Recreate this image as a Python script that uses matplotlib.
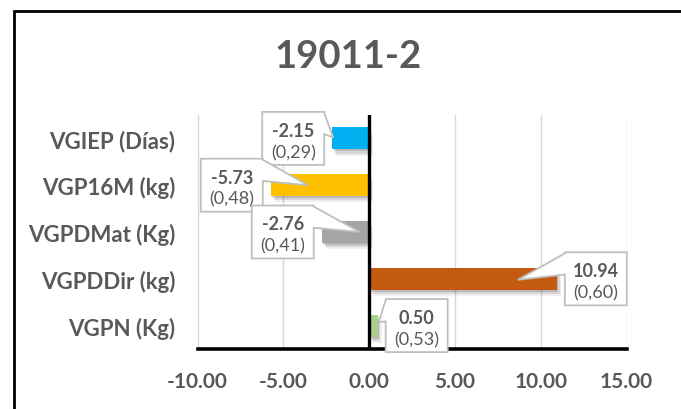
import matplotlib.pyplot as plt
import matplotlib.patches as mpatches
import matplotlib.patheffects as pe
import matplotlib.transforms as mtransforms
import numpy as np

categories = ["VGIEP (Días)", "VGP16M (kg)", "VGPDMat (Kg)", "VGPDDir (kg)", "VGPN (Kg)"]
values = [-2.15, -5.73, -2.76, 10.94, 0.50]
errors = ["(0,29)", "(0,48)", "(0,41)", "(0,60)", "(0,53)"]
colors = ["#00B0F0", "#FFC000", "#A5A5A5", "#C55A11", "#A9D18E"]
xticks = [-10, -5, 0, 5, 10, 15]

# where each callout points, in pixels from the end of its bar
tips = [(1, 1), (37, 0), (38, 0), (-39, -1), (1, 3.5)]

GREY_TEXT = "#595959"
plt.rcParams["font.family"] = ["Lato", "DejaVu Sans"]

W, H = 681, 410
fig = plt.figure(figsize=(W / 100, H / 100), dpi=100)
ax = fig.add_axes([197.5 / W, 60 / H, 429 / W, 234 / H])

y = np.arange(len(categories))
shadow = [
    pe.SimplePatchShadow(offset=(1, -1.5), shadow_rgbFace="black", alpha=0.14),
    pe.SimplePatchShadow(offset=(2, -3), shadow_rgbFace="black", alpha=0.10),
    pe.SimplePatchShadow(offset=(3, -4.5), shadow_rgbFace="black", alpha=0.06),
    pe.Normal(),
]
bars = ax.barh(y, values, height=0.47, color=colors, zorder=3)
for b in bars:
    b.set_path_effects(shadow)

ax.set_xlim(-10, 15)
ax.set_ylim(len(categories) - 0.5, -0.5)
ax.set_xticks(xticks)
ax.set_xticklabels([f"{t:.2f}" for t in xticks])
ax.set_yticks(y)
ax.set_yticklabels(categories)
ax.tick_params(axis="both", length=0, labelcolor=GREY_TEXT)
ax.tick_params(axis="x", pad=16, labelsize=15)
ax.tick_params(axis="y", pad=16, labelsize=16)
for lab in ax.get_xticklabels() + ax.get_yticklabels():
    lab.set_fontweight("bold")

ax.grid(axis="x", color="#D9D9D9", linewidth=1, zorder=0)
ax.set_axisbelow(True)
for s in ["top", "right", "left"]:
    ax.spines[s].set_visible(False)
ax.spines["bottom"].set_color("black")
ax.spines["bottom"].set_linewidth(2.6)
ax.spines["bottom"].set_zorder(4)
ax.axvline(0, color="black", linewidth=2.4, zorder=4)

# chart frame
fig.add_artist(mpatches.Rectangle((13.5, -20), 700, 418.5, fill=False, edgecolor="black",
                                  linewidth=2, transform=mtransforms.IdentityTransform()))

fig.text(348 / W, (H - 57.5) / H, "19011-2", ha="center", va="center",
         fontsize=27.5, fontweight="bold", color=GREY_TEXT)


def callout(left, bottom, w, h, tip, z):
    right, top = left + w, bottom + h
    y1, y2 = top - 0.02 * h, top - 0.42 * h
    if tip[0] > right:
        pts = [(left, bottom), (right, bottom), (right, y2), tip, (right, y1), (right, top), (left, top)]
    else:
        pts = [(left, bottom), (right, bottom), (right, top), (left, top), (left, y1), tip, (left, y2)]
    fig.add_artist(mpatches.Polygon(pts, closed=True, facecolor="white", edgecolor="#BFBFBF",
                                    linewidth=1.3, zorder=z,
                                    transform=mtransforms.IdentityTransform()))


box_w, box_h, gap = 62, 53, 8
for i, (v, err, tip) in enumerate(zip(values, errors, tips)):
    ex, ey = ax.transData.transform((v, i))
    left = ex + gap if v > 0 else ex - gap - box_w
    bottom = ey - box_h / 2
    callout(left, bottom, box_w, box_h, (ex + tip[0], ey + tip[1]), 10 + i)
    cx, cy = left + box_w / 2, ey
    fig.text(cx / W, (cy + 8) / H, f"{v:.2f}", ha="center", va="center", fontsize=13,
             fontweight="bold", color=GREY_TEXT, zorder=10.5 + i)
    fig.text(cx / W, (cy - 13.5) / H, err, ha="center", va="center", fontsize=13,
             color=GREY_TEXT, zorder=10.5 + i)

fig.savefig("out.png", dpi=100)
